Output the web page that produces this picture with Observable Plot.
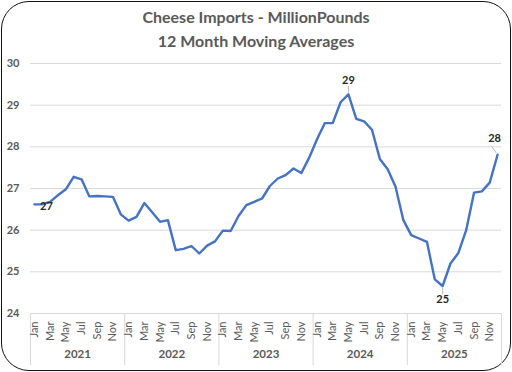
<!DOCTYPE html>
<html>
<head>
<meta charset="utf-8">
<script src="https://cdn.jsdelivr.net/npm/d3@7"></script>
<script src="https://cdn.jsdelivr.net/npm/@observablehq/plot@0.6"></script>
<style>
  html, body { margin: 0; padding: 0; background: #fff; }
  #wrap { position: relative; width: 512px; height: 372px; overflow: hidden; font-family: Lato, "Open Sans", sans-serif; }
  #frame { position: absolute; left: 1px; top: 1px; width: 510px; height: 370px; box-sizing: border-box; border: 1.6px solid #111; border-radius: 28px; }
  #title { position: absolute; left: 0; top: 5px; width: 512px; text-align: center; font-weight: bold; font-size: 16px; line-height: 24px; color: #595959; }
  #chart { position: absolute; left: 0; top: 0; }
</style>
</head>
<body>
<div id="wrap">
  <div id="frame"></div>
  <div id="chart"></div>
  <div id="title">Cheese Imports - MillionPounds<br>12 Month Moving Averages</div>
</div>
<script>
const years = [2021, 2022, 2023, 2024, 2025];
const monthNames = ["Jan","Feb","Mar","Apr","May","Jun","Jul","Aug","Sep","Oct","Nov","Dec"];
const values = [
  26.62, 26.62, 26.68, 26.84, 26.98, 27.28, 27.22, 26.81, 26.82, 26.81, 26.80, 26.38,
  26.23, 26.32, 26.65, 26.43, 26.20, 26.24, 25.52, 25.55, 25.62, 25.44, 25.63, 25.73,
  25.99, 25.98, 26.34, 26.60, 26.68, 26.76, 27.06, 27.24, 27.32, 27.48, 27.37, 27.74,
  28.18, 28.57, 28.57, 29.07, 29.26, 28.67, 28.61, 28.41, 27.71, 27.46, 27.04, 26.24,
  25.88, 25.80, 25.72, 24.82, 24.66, 25.20, 25.45, 26.00, 26.90, 26.93, 27.14, 27.81
];
const yTicks = [24, 25, 26, 27, 28, 29, 30];
const labelIdx = [0, 40, 52, 59];
const labelText = ["27", "29", "25", "28"];

const data = values.map((v, i) => ({i, v}));
const labels = labelIdx.map((i, k) => ({i, v: values[i], t: labelText[k], k}));
const monthTicks = d3.range(0, 60, 2);
const yearTicks = years.map((y, k) => k * 12 + 5.5);
const yearBounds = d3.range(0, years.length + 1).map(k => k * 12 - 0.5);

const textStyle = {x: "i", y: "v", text: "t", fontSize: 11, fontWeight: "bold", fill: "#262626"};

const chart = Plot.plot({
  width: 512,
  height: 372,
  marginTop: 63,
  marginBottom: 59,
  marginLeft: 30,
  marginRight: 11,
  style: {fontFamily: "Lato, 'Open Sans', sans-serif", background: "transparent"},
  x: {type: "linear", domain: [-0.5, 59.5]},
  y: {domain: [24, 30]},
  marks: [
    Plot.ruleY(yTicks, {stroke: "#d9d9d9", strokeWidth: 1}),
    Plot.ruleX(yearBounds, {y1: 24, y2: 22.75, stroke: "#d9d9d9", strokeWidth: 1}),
    Plot.axisY({ticks: yTicks, tickFormat: d => String(d), tickSize: 0, tickPadding: 11, fontSize: 11, fontWeight: "bold", fill: "#595959", label: null}),
    Plot.axisX({ticks: monthTicks, tickFormat: i => monthNames[i % 12], tickRotate: -90, tickSize: 0, tickPadding: 8, fontSize: 11, fill: "#595959", label: null}),
    Plot.axisX({ticks: yearTicks, tickFormat: x => String(years[Math.round((x - 5.5) / 12)]), tickSize: 0, tickPadding: 36, fontSize: 11.5, fontWeight: "bold", fill: "#595959", label: null}),
    Plot.line(data, {x: "i", y: "v", stroke: "#4472c4", strokeWidth: 2.4, strokeLinejoin: "round"}),
    Plot.link(labels.filter(d => d.k > 0), {
      x1: d => d.k === 3 ? d.i - 0.15 : d.i,
      x2: d => d.k === 3 ? d.i - 0.75 : d.i,
      y1: d => d.k === 2 ? d.v - 0.04 : d.v + 0.04,
      y2: d => d.k === 2 ? d.v - 0.2 : d.v + 0.2,
      stroke: "#a6a6a6", strokeWidth: 0.8
    }),
    Plot.text(labels.filter(d => d.k === 0), {...textStyle, dx: 12, dy: 2}),
    Plot.text(labels.filter(d => d.k === 1), {...textStyle, dy: -14}),
    Plot.text(labels.filter(d => d.k === 2), {...textStyle, dy: 13}),
    Plot.text(labels.filter(d => d.k === 3), {...textStyle, dx: -3, dy: -16})
  ]
});
document.getElementById("chart").appendChild(chart);
</script>
</body>
</html>
